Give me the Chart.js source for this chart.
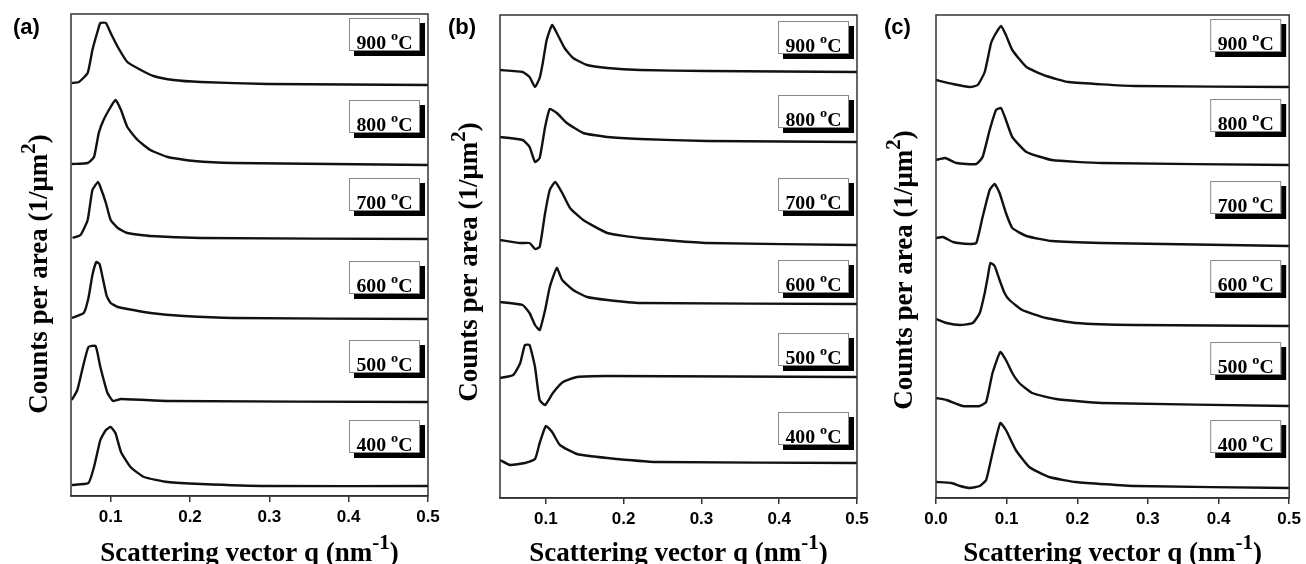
<!DOCTYPE html>
<html><head><meta charset="utf-8">
<script src="https://cdn.jsdelivr.net/npm/chart.js@4.4.1/dist/chart.umd.min.js"></script>
<style>
html,body{margin:0;padding:0;background:#fff;overflow:hidden}
.wrap{position:relative;width:1306px;height:564px}
canvas{position:absolute;left:0;top:0}
</style></head><body>
<div class="wrap">
<canvas id="ca" width="1306" height="564"></canvas>
<canvas id="cb" width="1306" height="564"></canvas>
<canvas id="cc" width="1306" height="564"></canvas>
</div>
<script>
// ---------- data ----------
const temps = ['900', '800', '700', '600', '500', '400'];
const xTicks = [0.0, 0.1, 0.2, 0.3, 0.4, 0.5];

// Panel (a)
const qA900 = [0.051,0.060,0.071,0.077,0.084,0.087,0.094,0.100,0.109,0.121,0.138,0.154,0.179,0.214,0.298,0.5];
const vA900 = [2,3,12,35,55,62,62,52,38,23,15,9,5,3,1,0];
const qA800 = [0.051,0.071,0.079,0.085,0.091,0.100,0.106,0.113,0.121,0.134,0.150,0.172,0.205,0.255,0.5];
const vA800 = [1,2,8,32,45,58,65,55,38,25,15,8,4,2,0];
const qA700 = [0.052,0.062,0.071,0.077,0.084,0.087,0.094,0.100,0.109,0.121,0.150,0.214,0.5];
const vA700 = [1,4,19,49,57,52,36,19,11,6,3,1,0];
const qA600 = [0.051,0.066,0.072,0.077,0.082,0.086,0.090,0.095,0.100,0.109,0.121,0.150,0.192,0.255,0.5];
const vA600 = [1,6,21,44,57,55,41,23,16,12,10,6,3,1,0];
const qA500 = [0.051,0.058,0.065,0.072,0.081,0.087,0.096,0.103,0.113,0.172,0.5];
const vA500 = [2,12,35,55,56,35,9,1,3,1,0];
const qA400 = [0.051,0.072,0.079,0.087,0.094,0.100,0.106,0.113,0.125,0.142,0.172,0.214,0.298,0.5];
const vA400 = [1,3,19,46,56,59,53,34,19,9,4,2,0,0];
const offA = [411,331,257,177,94,10];

// Panel (b)
const qB900 = [0.041,0.070,0.079,0.086,0.092,0.096,0.101,0.108,0.114,0.124,0.135,0.153,0.179,0.221,0.307,0.5];
const vB900 = [2,0,-5,-15,-6,9,32,47,39,24,14,7,4,2,1,0];
const qB800 = [0.041,0.070,0.079,0.086,0.092,0.099,0.105,0.114,0.127,0.148,0.179,0.221,0.307,0.5];
const vB800 = [5,2,-5,-20,-16,15,33,29,19,9,5,3,1,0];
const qB700 = [0.041,0.067,0.079,0.086,0.092,0.099,0.105,0.112,0.121,0.131,0.148,0.179,0.221,0.307,0.5];
const vB700 = [5,2,2,-4,-2,32,55,63,52,37,25,12,7,2,0];
const qB600 = [0.041,0.070,0.079,0.086,0.092,0.099,0.105,0.114,0.121,0.135,0.153,0.179,0.221,0.5];
const vB600 = [2,-1,-9,-21,-26,-6,17,36,24,14,7,4,1,0];
const qB500 = [0.041,0.058,0.067,0.073,0.079,0.086,0.092,0.099,0.109,0.122,0.140,0.179,0.5];
const vB500 = [-1,2,14,32,32,10,-23,-28,-16,-5,0,1,0];
const qB400 = [0.041,0.054,0.073,0.086,0.092,0.100,0.108,0.118,0.140,0.179,0.243,0.5];
const vB400 = [3,-2,0,4,20,37,31,18,9,5,1,0];
const offB = [426,356,253,194,121,35];

// Panel (c)
const qC900 = [0,0.024,0.048,0.059,0.069,0.078,0.085,0.092,0.099,0.108,0.128,0.156,0.188,0.282,0.5];
const vC900 = [7,3,0,2,15,44,54,61,52,37,20,11,5,1,0];
const qC800 = [0,0.013,0.029,0.057,0.066,0.076,0.085,0.092,0.099,0.108,0.128,0.164,0.234,0.5];
const vC800 = [5,7,2,1,8,35,55,57,45,28,13,5,2,0];
const qC700 = [0,0.010,0.024,0.048,0.057,0.066,0.076,0.083,0.090,0.099,0.108,0.128,0.164,0.234,0.5];
const vC700 = [8,9,4,2,3,29,56,62,53,33,18,10,5,3,0];
const qC600 = [0,0.015,0.034,0.052,0.062,0.069,0.073,0.077,0.083,0.090,0.097,0.104,0.122,0.156,0.198,0.282,0.5];
const vC600 = [7,3,1,3,13,33,48,63,60,46,33,26,16,8,3,1,0];
const qC500 = [0,0.015,0.038,0.062,0.071,0.080,0.091,0.099,0.108,0.118,0.136,0.170,0.234,0.5];
const vC500 = [8,6,0,0,4,33,54,46,33,23,13,7,3,0];
const qC400 = [0,0.022,0.034,0.048,0.062,0.071,0.080,0.091,0.099,0.113,0.132,0.160,0.198,0.282,0.5];
const vC400 = [6,5,2,0,2,8,35,65,58,38,21,11,6,2,0];
const offC = [411,333,252,172,92,10];

const xTitle = ['Scattering vector q (nm', '-1', ')'];
const yTitle = ['Counts per area (1/\u03bcm', '2', ')'];

// ---------- layout ----------
const W = 1306, Hc = 564;
const panels = [
  { id: 'ca', letter: '(a)', xmin: 0.05, ymax: 482,
    frame: {left: 71, right: 428, top: 14, bottom: 496},
    letterX: 13, yTitleX: 47, yTitleY: 274,
    boxTops: [18,100,178,261,340,420],
    q: [qA900,qA800,qA700,qA600,qA500,qA400], v: [vA900,vA800,vA700,vA600,vA500,vA400], off: offA },
  { id: 'cb', letter: '(b)', xmin: 0.041, ymax: 483,
    frame: {left: 500, right: 857, top: 15, bottom: 498},
    letterX: 448, yTitleX: 477, yTitleY: 262,
    boxTops: [21,95,178,260,333,412],
    q: [qB900,qB800,qB700,qB600,qB500,qB400], v: [vB900,vB800,vB700,vB600,vB500,vB400], off: offB },
  { id: 'cc', letter: '(c)', xmin: 0.0, ymax: 483,
    frame: {left: 936, right: 1293, top: 15, bottom: 498},
    letterX: 884, yTitleX: 912, yTitleY: 270,
    boxTops: [19,99,181,260,342,420],
    q: [qC900,qC800,qC700,qC600,qC500,qC400], v: [vC900,vC800,vC700,vC600,vC500,vC400], off: offC }
];

const SERIF = '"Liberation Serif", "Times New Roman", serif';
const SANS = '"Liberation Sans", Arial, sans-serif';

function drawParts(ctx, parts, x, y, align, sx) {
  sx = sx || 1;
  let total = 0;
  parts.forEach(p => { ctx.font = p.font; total += ctx.measureText(p.t).width + (p.gap || 0); });
  ctx.save();
  ctx.translate(x, y);
  ctx.scale(sx, 1);
  let cx = align === 'center' ? -total / 2 : 0;
  parts.forEach(p => {
    ctx.font = p.font;
    ctx.fillText(p.t, cx, -(p.dy || 0));
    cx += ctx.measureText(p.t).width + (p.gap || 0);
  });
  ctx.restore();
  return total * sx;
}

function decoPlugin(p) {
  return {
    id: 'deco' + p.id,
    afterDraw(chart) {
      const ctx = chart.ctx, a = chart.chartArea;
      ctx.save();
      // frame
      ctx.strokeStyle = '#333';
      ctx.lineWidth = 1.5;
      ctx.strokeRect(a.left, a.top, a.right - a.left, a.bottom - a.top);
      ctx.fillStyle = '#000';
      ctx.textBaseline = 'alphabetic';
      // panel letter
      ctx.font = 'bold 22px ' + SANS;
      ctx.textAlign = 'left';
      ctx.fillText(p.letter, p.letterX, 34);
      // x title
      drawParts(ctx, [
        {t: xTitle[0], font: 'bold 27px ' + SERIF},
        {t: xTitle[1], font: 'bold 21px ' + SERIF, dy: 12},
        {t: xTitle[2], font: 'bold 27px ' + SERIF}
      ], (a.left + a.right) / 2, 561, 'center');
      // y title
      ctx.save();
      ctx.translate(p.yTitleX, p.yTitleY);
      ctx.rotate(-Math.PI / 2);
      drawParts(ctx, [
        {t: yTitle[0], font: 'bold 27px ' + SERIF},
        {t: yTitle[1], font: 'bold 21px ' + SERIF, dy: 12},
        {t: yTitle[2], font: 'bold 27px ' + SERIF}
      ], 0, 0, 'center');
      ctx.restore();
      // label boxes
      const bw = 71, bh = 33, sh = 5;
      temps.forEach((t, i) => {
        const bx = a.right - 8 - bw, by = p.boxTops[i];
        ctx.fillStyle = '#000';
        ctx.fillRect(bx + sh, by + sh, bw, bh);
        ctx.fillStyle = '#fff';
        ctx.fillRect(bx, by, bw, bh);
        ctx.strokeStyle = '#888';
        ctx.lineWidth = 1;
        ctx.strokeRect(bx + 0.5, by + 0.5, bw - 1, bh - 1);
        ctx.fillStyle = '#000';
        drawParts(ctx, [
          {t: t + ' ', font: 'bold 18px ' + SERIF},
          {t: 'o', font: 'bold 13px ' + SERIF, dy: 9},
          {t: 'C', font: 'bold 18px ' + SERIF}
        ], bx + bw / 2, by + bh - 2, 'center', 1.1);
      });
      ctx.restore();
    }
  };
}

panels.forEach(p => {
  const datasets = temps.map((t, i) => ({
    label: t + ' \u00b0C',
    data: p.q[i].map((x, k) => ({x: x, y: p.off[i] + p.v[i][k]})),
    borderColor: '#111',
    borderWidth: 2.4,
    pointRadius: 0,
    tension: 0.15,
    fill: false
  }));
  new Chart(document.getElementById(p.id), {
    type: 'line',
    data: {datasets},
    options: {
      responsive: false,
      animation: false,
      devicePixelRatio: 1,
      events: [],
      layout: {padding: {left: p.frame.left, right: W - p.frame.right, top: p.frame.top, bottom: 0}},
      plugins: {legend: {display: false}, tooltip: {enabled: false}, title: {display: false}},
      scales: {
        x: {
          type: 'linear', min: p.xmin, max: 0.5,
          afterFit: s => { s.height = Hc - p.frame.bottom; },
          afterBuildTicks: s => { s.ticks = xTicks.filter(v => v >= p.xmin - 1e-9).map(v => ({value: v})); },
          ticks: {
            callback: v => Number(v).toFixed(1),
            font: {family: SANS, weight: 'bold', size: 17},
            color: '#000', padding: 5, maxRotation: 0, autoSkip: false
          },
          grid: {drawOnChartArea: false, drawTicks: true, tickLength: 6, color: '#333', lineWidth: 1.5},
          border: {display: true, color: '#333', width: 1.5}
        },
        y: {display: false, min: 0, max: p.ymax}
      }
    },
    plugins: [decoPlugin(p)]
  });
});
</script>
</body></html>
